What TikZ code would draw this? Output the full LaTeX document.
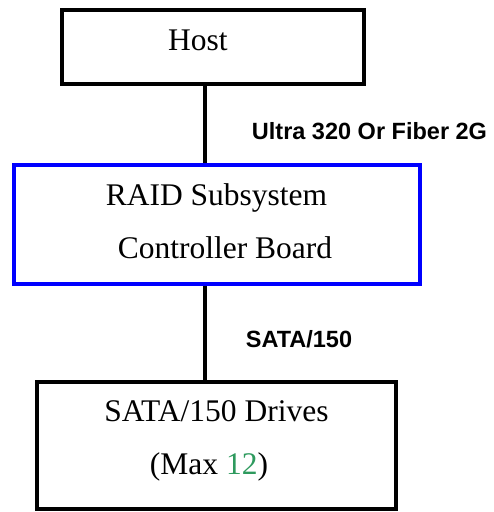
\documentclass[tikz,border=0pt]{standalone}
\usepackage{fontspec}
\setmainfont{Liberation Serif}
\setsansfont{Liberation Sans}
\usepackage{tikz}
\usetikzlibrary{positioning, calc}
\definecolor{raidblue}{HTML}{0000FF}
\definecolor{maxgreen}{HTML}{2E9A5E}

\begin{document}
\begin{tikzpicture}[x=1pt, y=-1pt,
    box/.style={draw, line width=3.8pt, inner sep=0pt},
    boxtext/.style={inner sep=0pt, anchor=base, font=\fontsize{31.5}{38}\selectfont},
    linklabel/.style={inner sep=0pt, anchor=base, font=\fontsize{23.5}{28}\selectfont\sffamily\bfseries},
    link/.style={line width=3.8pt},
]
    \useasboundingbox (0,0) rectangle (494,512);

    % boxes
    \node[box, minimum width=302pt, minimum height=74pt] (host) at (213,47) {};
    \node[box, draw=raidblue, minimum width=406pt, minimum height=119pt] (raid) at (217,224.5) {};
    \node[box, minimum width=359pt, minimum height=127pt] (drives) at (216.5,445.5) {};

    % box texts
    \node[boxtext] (hosttxt)  at (198,50)  {Host};
    \node[boxtext] (raidtxt1) at (216.5,205) {RAID Subsystem};
    \node[boxtext] (raidtxt2) at (225,258) {Controller Board};
    \node[boxtext] (drvtxt1)  at (216.5,421) {SATA/150 Drives};
    \node[boxtext] (drvtxt2)  at (209,474) {(Max \textcolor{maxgreen}{12})};

    % connectors
    \coordinate (bus) at (205,0);
    \foreach \a/\b in {host/raid, raid/drives}
        \draw[link] (\a.south -| bus) -- (\b.north -| bus);

    \node[linklabel] (hostlink) at (369.5,139) {Ultra 320 Or Fiber 2G};
    \node[linklabel] (satalink) at (299,347) {SATA/150};
\end{tikzpicture}
\end{document}
